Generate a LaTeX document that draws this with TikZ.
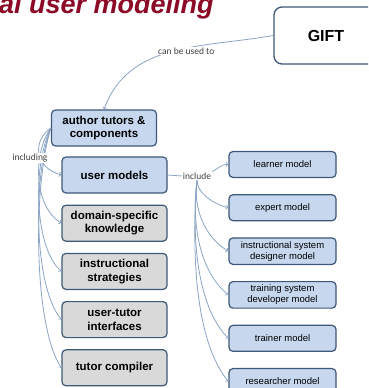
\documentclass[tikz,border=0pt]{standalone}
\usepackage{fontspec}
\setmainfont{Liberation Sans}
\newfontfamily\labelfont{Carlito}
\usepackage{tikz}
\usetikzlibrary{arrows, positioning}

\definecolor{boxline}{HTML}{3E5878}
\definecolor{boxblue}{HTML}{C6D7EE}
\definecolor{boxgray}{HTML}{D9D9D9}
\definecolor{linkblue}{HTML}{8AA4C4}
\definecolor{titlered}{HTML}{8C0A26}
\definecolor{labelgray}{HTML}{404040}

\begin{document}
\begin{tikzpicture}[x=1pt, y=1pt, >=to, node distance=11pt,
    topic/.style={draw=boxline, line width=1.2pt, rounded corners=4pt, fill=boxblue, minimum width=105pt, minimum height=36pt, align=center, font=\fontsize{11.5}{13.5}\selectfont\bfseries},
    part/.style={topic, fill=boxgray},
    model/.style={draw=boxline, line width=1.2pt, rounded corners=4pt, fill=boxblue, minimum width=107pt, minimum height=26pt, align=center, font=\fontsize{9.5}{11}\selectfont},
    link/.style={draw=linkblue, line width=0.8pt},
    lbl/.style={text=labelgray, font=\labelfont\fontsize{9.5}{10}\selectfont, inner sep=1pt}]

    \clip (0,0) rectangle (368,-388);

    % Title and top box
    \node (title) [anchor=base west, inner sep=0pt, text=titlered, font=\fontsize{27}{27}\selectfont\bfseries\itshape] at (-1,-13) {al user modeling};
    \node (gift) [draw=boxline, line width=1.3pt, rounded corners=8pt, fill=white, minimum width=104pt, minimum height=57pt, font=\fontsize{16}{16}\selectfont\bfseries] at (326,-35.5) {GIFT};

    % Left column
    \node (author) [topic] at (104,-128) {author tutors \&\\components};
    \node (usermod) [topic] at (114.5,-175) {user models};
    \node (domain) [part, below=of usermod] {domain-specific\\knowledge};
    \node (strat) [part, below=of domain] {instructional\\strategies};
    \node (iface) [part, below=of strat] {user-tutor\\interfaces};
    \node (compiler) [part, below=of iface] {tutor compiler};

    % Right column
    \node (learner) [model] at (282.5,-164.5) {learner model};
    \node (expert) [model, below=16pt of learner] {expert model};
    \node (isd) [model, below=16pt of expert] {instructional system\\designer model};
    \node (tsd) [model, below=16pt of isd] {training system\\developer model};
    \node (trainer) [model, below=16pt of tsd] {trainer model};
    \node (researcher) [model, below=16pt of trainer] {researcher model};

    \node (incl) [lbl] at (197,-176) {include};

    % Links
    \draw[link,->] (gift.west) to[out=190, in=70] node[lbl, pos=0.42, fill=white, yshift=-3pt] {can be used to} (author.north);

    \draw[link,->] (author.west) .. controls +(-18,-12) and +(-28,8) .. (usermod.west);
    \draw[link,->] (author.west) .. controls +(-18,-24) and +(-28,17) .. (domain.west);
    \draw[link,->] (author.west) .. controls +(-18,-35) and +(-28,25) .. (strat.west);
    \draw[link,->] (author.west) .. controls +(-18,-47) and +(-28,34) .. (iface.west);
    \draw[link,->] (author.west) .. controls +(-18,-58) and +(-28,42) .. (compiler.west);
    \node (including) [lbl, fill=white] at (30,-158) {including};

    \draw[link] (usermod.east) -- (incl.west);
    \draw[link,->] (incl.north east) .. controls +(8,4) and +(-8,0) .. (learner.west);
    \draw[link,->] (incl.south) .. controls +(0,-12) and +(-16,4) .. (expert.west);
    \draw[link,->] (incl.south) .. controls +(-4,-27) and +(-24,14) .. (isd.west);
    \draw[link,->] (incl.south) .. controls +(-6,-44) and +(-28,22) .. (tsd.west);
    \draw[link,->] (incl.south) .. controls +(-6,-61) and +(-30,30) .. (trainer.west);
    \draw[link,->] (incl.south) .. controls +(-6,-78) and +(-32,39) .. (researcher.west);
\end{tikzpicture}
\end{document}
